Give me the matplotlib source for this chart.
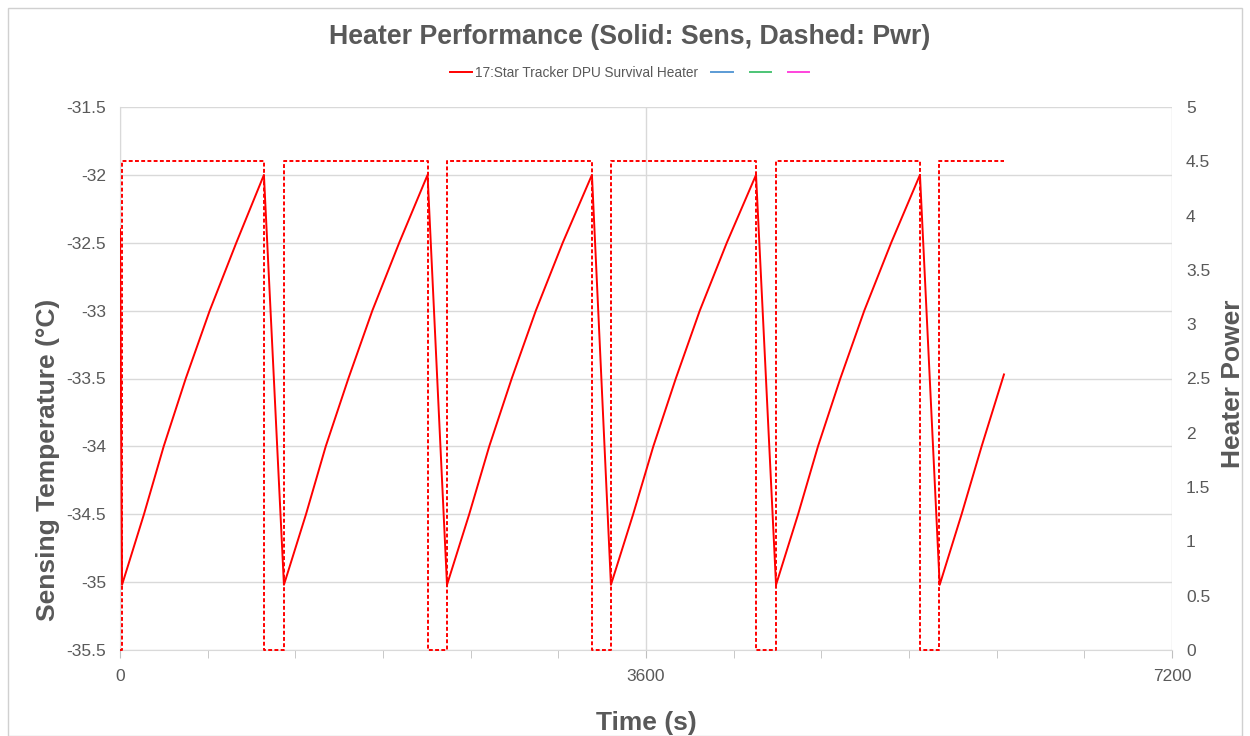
import numpy as np
import matplotlib.pyplot as plt
from matplotlib.lines import Line2D
from matplotlib.patches import Rectangle

# sensor temperature (solid)
sens_t = [0, 14, 164, 299, 450, 614, 796, 985,
          1122, 1273, 1408, 1563, 1727, 1911, 2105,
          2238, 2390, 2527, 2681, 2846, 3030, 3230,
          3360, 3512, 3650, 3804, 3968, 4153, 4353,
          4490, 4641, 4777, 4930, 5094, 5278, 5475,
          5610, 5760, 5897, 6050]
sens_temp = [-32.4, -35.02, -34.5, -34.0, -33.5, -33.0, -32.5, -32.0,
             -35.02, -34.5, -34.0, -33.5, -33.0, -32.5, -32.0,
             -35.02, -34.5, -34.0, -33.5, -33.0, -32.5, -32.0,
             -35.02, -34.5, -34.0, -33.5, -33.0, -32.5, -32.0,
             -35.02, -34.5, -34.0, -33.5, -33.0, -32.5, -32.0,
             -35.02, -34.5, -34.0, -33.47]

# heater power (dashed)
pwr_t = [0, 14, 14, 985, 985, 1122, 1122, 2105, 2105, 2238, 2238, 3230, 3230,
         3360, 3360, 4353, 4353, 4490, 4490, 5475, 5475, 5605, 5605, 6050]
pwr = [0, 0, 4.5, 4.5, 0, 0, 4.5, 4.5, 0, 0, 4.5, 4.5, 0,
       0, 4.5, 4.5, 0, 0, 4.5, 4.5, 0, 0, 4.5, 4.5]

legend_labels = ["17:Star Tracker DPU Survival Heater", "", "", ""]
legend_colors = ["#ff0000", "#5b9bd5", "#4cc475", "#ff44dd"]

gray = '#595959'
grid = '#d9d9d9'
plt.rcParams['font.family'] = ['Liberation Sans', 'DejaVu Sans']

fig = plt.figure(figsize=(12.5, 7.36), dpi=100)
fig.patches.append(Rectangle((8/1250, 0), 1 - 16/1250, 1 - 8/736, transform=fig.transFigure,
                             fill=False, edgecolor='#d0d0d0', linewidth=1))
ax = fig.add_axes([120/1250, 86/736, 1052/1250, 543/736])
ax2 = ax.twinx()

ax.plot(sens_t, sens_temp, color='red', linewidth=1.4, zorder=3)
ax2.plot(pwr_t, pwr, color='red', linewidth=1.4, linestyle=(0, (2, 1.2)), zorder=3,
         clip_on=False)

ax.set_xlim(0, 7200)
ax.set_ylim(-35.5, -31.5)
ax2.set_ylim(0, 5)
ax.set_xticks([0, 3600, 7200])
ax.set_xticks(np.arange(0, 7201, 600), minor=True)
ax.set_yticks(np.arange(-35.5, -31.49, 0.5))
ax.set_yticklabels([f"{v:g}" for v in np.arange(-35.5, -31.49, 0.5)])
ax2.set_yticks(np.arange(0, 5.01, 0.5))
ax2.set_yticklabels([f"{v:g}" for v in np.arange(0, 5.01, 0.5)])

ax.grid(True, axis='y', color=grid, linewidth=1)
ax.grid(True, axis='x', which='major', color=grid, linewidth=1)
for a in (ax, ax2):
    for s in a.spines.values():
        s.set_visible(False)
ax.spines['left'].set_visible(True)
ax.spines['left'].set_color(grid)
ax.spines['bottom'].set_visible(True)
ax.spines['bottom'].set_color(grid)
ax.tick_params(axis='y', length=0, labelsize=12.5, labelcolor=gray, pad=10)
ax2.tick_params(axis='y', length=0, labelsize=12.5, labelcolor=gray, pad=10)
ax.tick_params(axis='x', which='both', length=6, color='#bfbfbf', labelsize=12.5,
               labelcolor=gray, pad=8)

ax.set_xlabel("Time (s)", fontsize=19, fontweight='bold', color=gray, labelpad=19)
ax.set_ylabel("Sensing Temperature (°C)", fontsize=19, fontweight='bold', color=gray)
ax.yaxis.set_label_coords(-0.057, 0.35)
ax2.set_ylabel("Heater Power", fontsize=19, fontweight='bold', color=gray)
ax2.yaxis.set_label_coords(1.047, 0.49)
fig.text(0.504, 0.95, "Heater Performance (Solid: Sens, Dashed: Pwr)", ha='center', va='center',
         fontsize=19.3, fontweight='bold', color=gray)

handles = [Line2D([], [], color=c, linewidth=1.4) for c in legend_colors]
fig.legend(handles, legend_labels, loc='center', bbox_to_anchor=(0.505, 0.901), ncol=4,
           frameon=False, fontsize=9.8, labelcolor=gray, handlelength=1.6,
           handletextpad=0.2, columnspacing=1.0)

fig.savefig("out.png", dpi=100)
